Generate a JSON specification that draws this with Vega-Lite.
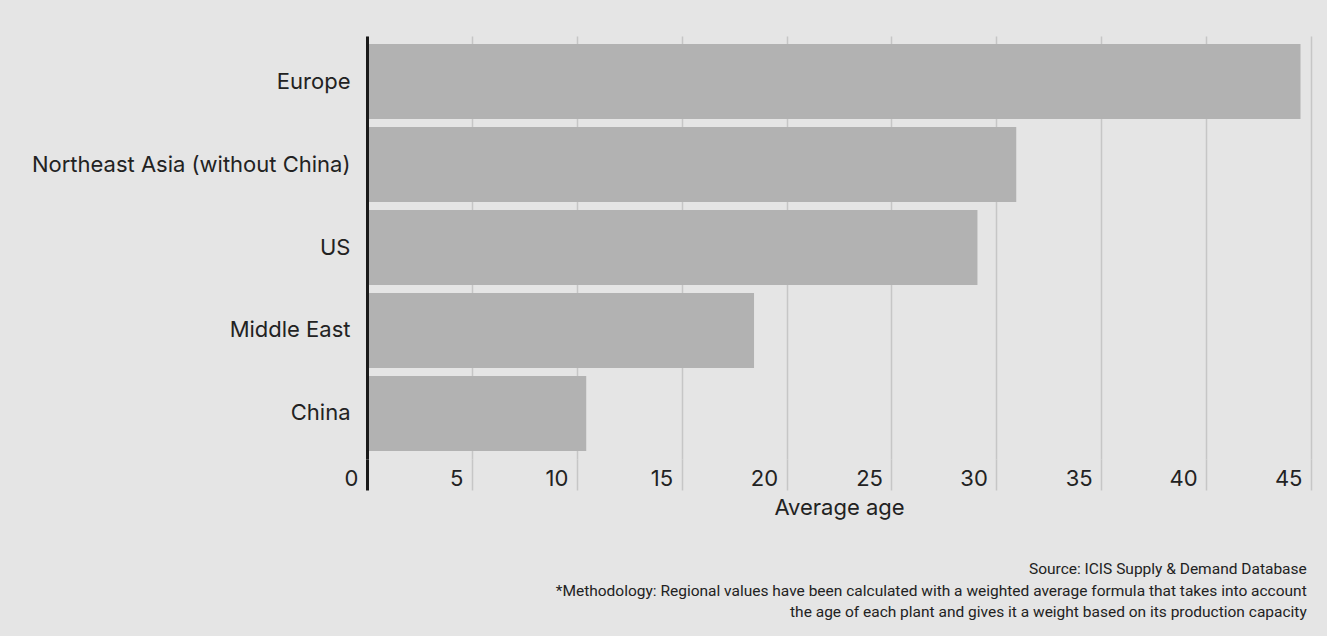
{
  "$schema": "https://vega.github.io/schema/vega-lite/v6.json",
  "width": 944,
  "height": 423,
  "autosize": "none",
  "padding": {"left": 367, "top": 36, "right": 16, "bottom": 177},
  "background": "#e5e5e5",
  "config": {"view": {"stroke": null}, "font": "Inter"},
  "data": {
    "values": [
      {"region": "Europe", "age": 44.5},
      {"region": "Northeast Asia (without China)", "age": 30.95},
      {"region": "US", "age": 29.1},
      {"region": "Middle East", "age": 18.45},
      {"region": "China", "age": 10.45}
    ]
  },
  "mark": {"type": "bar", "color": "#b2b2b2"},
  "encoding": {
    "y": {
      "field": "region",
      "type": "nominal",
      "sort": null,
      "scale": {"paddingInner": 0.0964, "paddingOuter": 0.0964},
      "axis": {
        "title": null,
        "zindex": 1,
        "domain": true,
        "domainColor": "#1a1a1a",
        "domainWidth": 3,
        "ticks": false,
        "labelPadding": 17,
        "labelFontSize": 22,
        "labelColor": "#222222",
        "labelFont": "Inter",
        "labelLimit": 400
      }
    },
    "x": {
      "field": "age",
      "type": "quantitative",
      "scale": {"domain": [0, 45], "nice": false},
      "axis": {
        "values": [0, 5, 10, 15, 20, 25, 30, 35, 40, 45],
        "grid": true,
        "gridColor": "#c6c6c6",
        "gridWidth": 1.5,
        "domain": false,
        "ticks": true,
        "tickSize": 31,
        "tickColor": {"condition": {"test": "datum.value === 0", "value": "#1a1a1a"}, "value": "#c6c6c6"},
        "tickWidth": {"condition": {"test": "datum.value === 0", "value": 3}, "value": 1.5},
        "labelAlign": "right",
        "labelBaseline": "middle",
        "labelPadding": -12,
        "labelOffset": -9,
        "labelFontSize": 22,
        "labelColor": "#222222",
        "labelFont": "Inter",
        "labelFlush": false,
        "title": "Average age",
        "titleFont": "Inter",
        "titleFontSize": 22,
        "titleFontWeight": "normal",
        "titleColor": "#222222",
        "titlePadding": 6
      }
    }
  },
  "title": {
    "text": "Source: ICIS Supply & Demand Database",
    "subtitle": [
      "*Methodology: Regional values have been calculated with a weighted average formula that takes into account",
      "the age of each plant and gives it a weight based on its production capacity"
    ],
    "orient": "bottom",
    "anchor": "end",
    "font": "Roboto",
    "fontSize": 15.5,
    "fontWeight": "normal",
    "color": "#222222",
    "subtitleFont": "Roboto",
    "subtitleFontSize": 15.5,
    "subtitleColor": "#222222",
    "subtitleLineHeight": 21,
    "subtitlePadding": 7,
    "offset": 43,
    "dx": -5
  }
}
